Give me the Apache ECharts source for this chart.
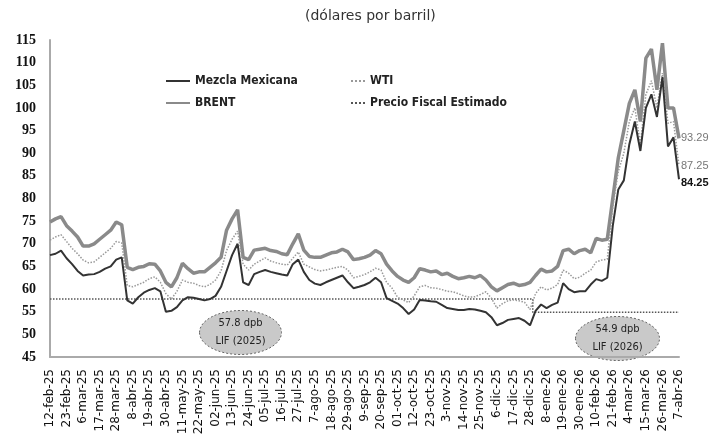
<!DOCTYPE html>
<html>
<head>
<meta charset="utf-8">
<script src="https://cdn.jsdelivr.net/npm/echarts@6/dist/echarts.min.js"></script>
<style>
  html, body { margin: 0; padding: 0; background: #fff; }
  #main { width: 715px; height: 442px; }
</style>
</head>
<body>
<div id="main"></div>
<script>
// etiquetas del eje x (una cada 3 puntos)
var tickLabels = ['12-feb-25', '23-feb-25', '6-mar-25', '17-mar-25', '28-mar-25', '8-abr-25', '19-abr-25', '30-abr-25',
  '11-may-25', '22-may-25', '02-jun-25', '13-jun-25', '24-jun-25', '05-jul-25', '16-jul-25', '27-jul-25',
  '7-ago-25', '18-ago-25', '29-ago-25', '9-sep-25', '20-sep-25', '01-oct-25', '12-oct-25', '23-oct-25',
  '3-nov-25', '14-nov-25', '25-nov-25', '6-dic-25', '17-dic-25', '28-dic-25', '8-ene-26', '19-ene-26',
  '30-ene-26', '10-feb-26', '21-feb-26', '4-mar-26', '15-mar-26', '26-mar-26', '7-abr-26'];

var mezcla = [67.5, 67.8, 68.5, 66.8, 65.5, 64, 63, 63.2, 63.3, 63.8, 64.5, 65, 66.5, 67,
  57.5, 56.8, 58.2, 59.2, 59.8, 60.2, 59.5, 55, 55.2, 56, 57.5, 58.2, 58.1, 57.8, 57.5, 57.8,
  58.5, 60.5, 64, 67.5, 70, 61.5, 60.9, 63.3, 63.8, 64.2, 63.8, 63.5, 63.2, 63, 65.5, 66.5,
  63.8, 62, 61.2, 60.9, 61.5, 62, 62.5, 63, 61.5, 60.2, 60.5, 60.9, 61.5, 62.5, 61.5, 58,
  57.4, 56.8, 55.8, 54.5, 55.5, 57.6, 57.5, 57.3, 57.2, 56.5, 55.8, 55.6, 55.4, 55.4, 55.6,
  55.5, 55.2, 54.9, 53.8, 52, 52.5, 53.2, 53.4, 53.6, 53, 52, 55.2, 56.6, 55.8, 56.5, 57,
  61.3, 60, 59.3, 59.5, 59.5, 61, 62.2, 61.8, 62.5, 74, 82, 84, 92, 97, 90.5, 100, 103, 98,
  106.8, 91.5, 93.5, 84.25];

var brent = [74.8, 75.5, 76, 74, 72.8, 71.5, 69.5, 69.5, 70, 71, 72, 73, 74.8, 74.2,
  64.8, 64.3, 64.8, 65, 65.6, 65.5, 64, 61.5, 60.5, 62.5, 65.7, 64.5, 63.5, 63.8, 63.8, 64.8,
  65.8, 67, 73, 75.5, 77.5, 67, 66.5, 68.6, 68.8, 69, 68.5, 68.3, 67.8, 67.6, 70, 72.2,
  68.6, 67.2, 67, 67, 67.5, 68, 68.2, 68.8, 68.2, 66.5, 66.7, 67, 67.5, 68.5, 67.8, 65.5,
  64, 62.8, 62, 61.5, 62.5, 64.5, 64.2, 63.8, 64, 63.2, 63.5, 62.8, 62.3, 62.5, 62.8,
  62.5, 63, 62, 60.5, 59.6, 60.3, 61, 61.3, 60.8, 61, 61.5, 63, 64.4, 63.8, 64, 65,
  68.5, 68.8, 67.8, 68.5, 68.8, 68, 71.2, 70.8, 71, 80, 89, 95, 101, 104, 97, 111, 113, 104,
  114.3, 100, 100, 93.29];

var wti = [70.8, 71.5, 72, 70.5, 69, 67.8, 66.4, 65.8, 66, 67, 68, 69, 70.5, 70.2,
  60.8, 60.5, 61, 61.5, 62.3, 62.7, 61.5, 59, 57.8, 59.5, 62, 61.5, 61.3, 60.8, 60.5, 61,
  62, 64, 68.5, 71, 72.8, 65.5, 64.2, 65.5, 66.2, 66.9, 66.2, 65.8, 65.5, 65.3, 66.8, 68.2,
  65.5, 64.9, 64.3, 64, 64.2, 64.5, 64.8, 65, 64.2, 62.5, 62.8, 63.2, 63.8, 64.6, 64.2, 61.5,
  60.2, 58.2, 57.6, 57, 58.5, 60.5, 60.8, 60.3, 60.2, 59.9, 59.5, 59.4, 59, 58.5, 58.2,
  58.3, 58.8, 59.4, 58, 55.8, 56.8, 57.4, 57.6, 57.4, 57.1, 55.5, 59, 60.5, 59.8, 60.2, 61,
  64.2, 63.5, 62.3, 62.6, 63.5, 64.2, 66, 66.4, 66.6, 78, 86, 90, 97, 100, 92, 103, 106, 100,
  107.7, 96.6, 97, 87.25];

// precio fiscal: 57.8 dpb (LIF 2025) hasta fin de 2025, 54.9 dpb (LIF 2026) después
var fiscal2025 = 57.8;
var fiscal2026 = 54.9;
var puntosFiscal2025 = 88;

var categorias = [];
var fiscal = [];
for (let i = 0; i < mezcla.length; i++) {
  categorias.push(i % 3 === 0 ? tickLabels[i / 3] : '');
  fiscal.push(i < puntosFiscal2025 ? fiscal2025 : fiscal2026);
}

var myChart = echarts.init(document.getElementById('main'));

var legendText = {
  fontFamily: 'DejaVu Sans Condensed, DejaVu Sans',
  fontSize: 12,
  fontWeight: 'bold',
  color: '#222'
};

// sin circulito en el icono de la leyenda, solo la linea
var legendItem = {
  color: 'transparent',
  borderWidth: 0
};

var option = {
  animation: false,
  title: {
    text: '(dólares por barril)',
    left: 300,
    top: 4,
    textStyle: {
      fontFamily: 'DejaVu Sans, sans-serif',
      fontSize: 14,
      fontWeight: 'normal',
      color: '#333'
    }
  },
  legend: [{
      data: ['Mezcla Mexicana', 'BRENT'],
      orient: 'vertical',
      left: 160,
      top: 70,
      itemGap: 10,
      itemWidth: 24,
      itemHeight: 10,
      itemStyle: legendItem,
      textStyle: legendText
    },
    {
      data: ['WTI', 'Precio Fiscal Estimado'],
      orient: 'vertical',
      left: 345,
      top: 70,
      itemGap: 10,
      itemWidth: 14,
      itemHeight: 10,
      itemStyle: legendItem,
      textStyle: legendText
    }
  ],
  grid: {
    left: 50,
    right: 36,
    top: 40,
    bottom: 85
  },
  xAxis: {
    type: 'category',
    data: categorias,
    boundaryGap: false,
    axisLine: {
      lineStyle: { color: '#aaa', width: 2 }
    },
    axisTick: { show: false },
    axisLabel: {
      interval: 2,
      rotate: 90,
      margin: 12,
      fontFamily: 'DejaVu Sans, sans-serif',
      fontSize: 12,
      color: '#111'
    },
    splitLine: { show: false }
  },
  yAxis: {
    type: 'value',
    min: 45,
    max: 115,
    interval: 5,
    axisLine: {
      show: true,
      lineStyle: { color: '#aaa', width: 2 }
    },
    axisTick: { show: false },
    axisLabel: {
      margin: 14,
      fontFamily: 'Liberation Serif, serif',
      fontWeight: 'bold',
      fontSize: 14,
      color: '#111'
    },
    splitLine: { show: false }
  },
  series: [{
      name: 'Mezcla Mexicana',
      type: 'line',
      data: mezcla,
      symbol: 'none',
      z: 4,
      color: '#333',
      lineStyle: { color: '#333', width: 2 },
      endLabel: {
        show: true,
        formatter: '{c}',
        fontSize: 11,
        fontWeight: 'bold',
        color: '#111',
        distance: 2,
        offset: [0, 4]
      }
    },
    {
      name: 'BRENT',
      type: 'line',
      data: brent,
      symbol: 'none',
      z: 2,
      color: '#8a8a8a',
      lineStyle: { color: '#8a8a8a', width: 3.5 },
      endLabel: {
        show: true,
        formatter: '{c}',
        fontSize: 11,
        color: '#777',
        distance: 2
      }
    },
    {
      name: 'WTI',
      type: 'line',
      data: wti,
      symbol: 'none',
      z: 3,
      color: '#999',
      lineStyle: { color: '#999', width: 1.5, type: 'dotted' },
      endLabel: {
        show: true,
        formatter: '{c}',
        fontSize: 11,
        color: '#777',
        distance: 2
      }
    },
    {
      name: 'Precio Fiscal Estimado',
      type: 'line',
      data: fiscal,
      symbol: 'none',
      step: 'middle',
      z: 1,
      color: '#555',
      lineStyle: { color: '#555', width: 1.5, type: 'dotted' }
    }
  ],
  graphic: [{
      type: 'group',
      left: 199,
      top: 310,
      children: [{
          type: 'ellipse',
          shape: { cx: 41, cy: 22, rx: 41, ry: 22 },
          style: { fill: '#c9c9c9', stroke: '#666', lineWidth: 1, lineDash: [2, 2] }
        },
        {
          type: 'text',
          style: {
            x: 41, y: 13, text: '57.8 dpb', align: 'center', verticalAlign: 'middle',
            font: '11px DejaVu Sans Condensed', fill: '#222'
          }
        },
        {
          type: 'text',
          style: {
            x: 41, y: 31, text: 'LIF (2025)', align: 'center', verticalAlign: 'middle',
            font: '11px DejaVu Sans Condensed', fill: '#222'
          }
        }
      ]
    },
    {
      type: 'group',
      left: 575,
      top: 316,
      children: [{
          type: 'ellipse',
          shape: { cx: 42, cy: 22, rx: 42, ry: 22 },
          style: { fill: '#c9c9c9', stroke: '#666', lineWidth: 1, lineDash: [2, 2] }
        },
        {
          type: 'text',
          style: {
            x: 42, y: 13, text: '54.9 dpb', align: 'center', verticalAlign: 'middle',
            font: '11px DejaVu Sans Condensed', fill: '#222'
          }
        },
        {
          type: 'text',
          style: {
            x: 42, y: 31, text: 'LIF (2026)', align: 'center', verticalAlign: 'middle',
            font: '11px DejaVu Sans Condensed', fill: '#222'
          }
        }
      ]
    }
  ]
};

option && myChart.setOption(option);
</script>
</body>
</html>
